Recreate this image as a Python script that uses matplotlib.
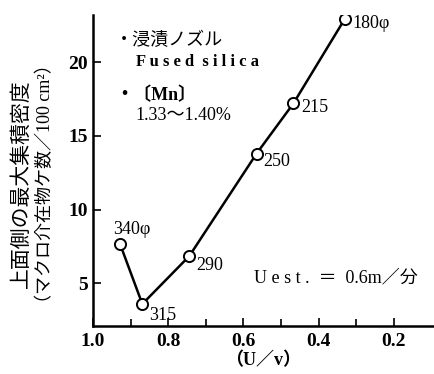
import matplotlib.pyplot as plt

# data
uv = [0.928, 0.869, 0.744, 0.565, 0.467, 0.331]
density = [7.65, 3.6, 6.85, 13.8, 17.2, 22.9]
sizes = ["340φ", "315", "290", "250", "215", "180φ"]

xticks = [1.0, 0.8, 0.6, 0.4, 0.2]
yticks = [5, 10, 15, 20]

plt.rcParams['font.family'] = ['Liberation Serif', 'Noto Sans CJK JP']

fig = plt.figure(figsize=(4.35, 3.74), dpi=100)
ax = fig.add_axes([0.214, 0.128, 0.781, 0.832])

ax.plot(uv, density, color='k', lw=1.8, marker='o', markersize=8,
        markerfacecolor='white', markeredgecolor='k', markeredgewidth=1.4)

# point labels
offsets = [(-5, 11), (5, -8), (5, -7), (5, -6), (6, -3), (6, -3)]
for x, y, s, off in zip(uv, density, sizes, offsets):
    ax.annotate(s, (x, y), xytext=off, textcoords='offset points',
                fontsize=13, ha='left', va='center')

ax.set_xlim(1.0, 0.096)
ax.set_ylim(2.1, 23.2)
ax.set_xticks(xticks)
ax.set_xticklabels([f"{t:.1f}" for t in xticks])
ax.set_xticks([0.9, 0.7, 0.5, 0.3], minor=True)
ax.set_yticks(yticks)

ax.tick_params(axis='both', which='major', direction='in', length=6, width=1.2,
               labelsize=14)
ax.tick_params(axis='x', which='minor', direction='in', length=5, width=1.2)
ax.tick_params(axis='x', pad=5)
for lab in ax.get_xticklabels() + ax.get_yticklabels():
    lab.set_fontweight('bold')

for side in ['top', 'right']:
    ax.spines[side].set_visible(False)
for side in ['left', 'bottom']:
    ax.spines[side].set_linewidth(1.8)

ax.set_xlabel("（U／v）", fontsize=13, labelpad=1, fontweight='bold')

fig.text(0.05, 0.51, "上面側の最大集積密度", rotation=90, fontsize=15,
         ha='center', va='center')
fig.text(0.105, 0.51, "（マクロ介在物ケ数／100 cm²）", rotation=90, fontsize=13,
         ha='center', va='center')

fig.text(0.265, 0.893, "・浸漬ノズル", fontsize=13, va='center')
fig.text(0.312, 0.835, "F u s e d  s i l i c a", fontsize=12, va='center',
         weight='bold')
fig.text(0.265, 0.746, "・〔Mn〕", fontsize=13, va='center', weight='bold')
fig.text(0.312, 0.69, "1.33～1.40%", fontsize=13, va='center')
fig.text(0.585, 0.257, "U e s t .  ＝  0.6m／分", fontsize=13, va='center')

fig.savefig("out.png", dpi=100)
